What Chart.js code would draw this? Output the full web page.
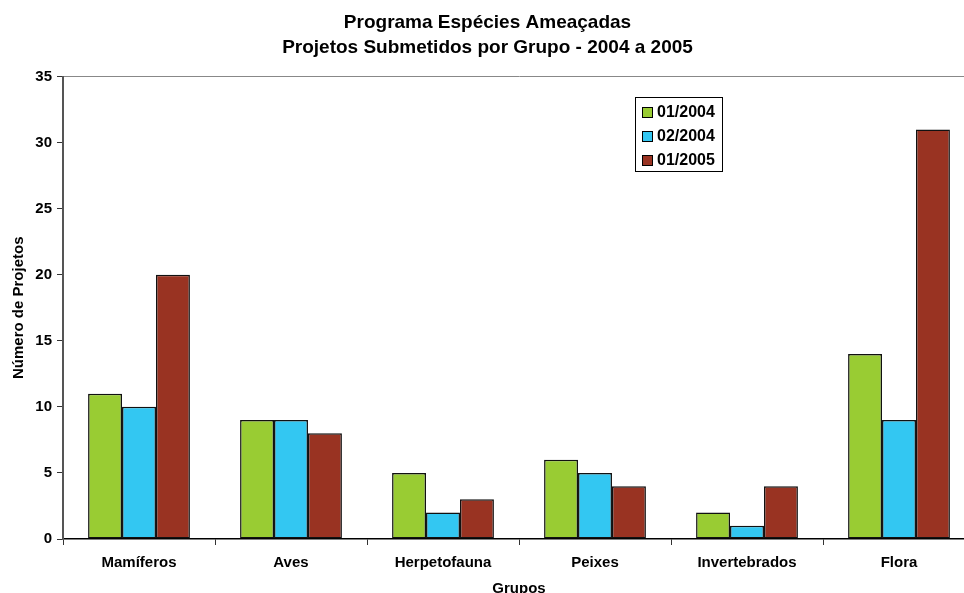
<!DOCTYPE html>
<html><head><meta charset="utf-8">
<script src="https://cdn.jsdelivr.net/npm/chart.js@4"></script>
<style>
html,body{margin:0;padding:0;overflow:hidden;background:#fff;width:964px;height:593px}
#wrap{position:absolute;left:0;top:0;width:992px;height:593px}
</style></head><body>
<div id="wrap"><canvas id="c" width="992" height="593"></canvas></div>
<script>
const categories = ['Mamíferos','Aves','Herpetofauna','Peixes','Invertebrados','Flora'];
const seriesNames = ['01/2004','02/2004','01/2005'];
const s2004a = [11, 9, 5, 6, 2, 14];
const s2004b = [10, 9, 2, 5, 1, 9];
const s2005a = [20, 8, 3, 4, 4, 31];
const colors = ['#99CC33','#33C7F2','#993322'];
const FONT = 'Liberation Sans, Arial, sans-serif';

const legendBox = {
  id: 'legendBox',
  afterDraw(chart) {
    const ctx = chart.ctx;
    const x = 635, y = 97, w = 87, h = 74;
    ctx.save();
    ctx.fillStyle = '#fff';
    ctx.fillRect(x, y, w, h);
    ctx.strokeStyle = '#000';
    ctx.lineWidth = 1;
    ctx.strokeRect(x + 0.5, y + 0.5, w, h);
    ctx.font = 'bold 16px ' + FONT;
    ctx.textBaseline = 'middle';
    chart.data.datasets.forEach((ds, i) => {
      const cy = y + 15 + i * 24;
      ctx.fillStyle = ds.backgroundColor;
      ctx.fillRect(x + 7, cy - 5, 11, 11);
      ctx.strokeStyle = '#000';
      ctx.strokeRect(x + 7.5, cy - 4.5, 10, 10);
      ctx.fillStyle = '#000';
      ctx.fillText(ds.label, x + 22, cy + 1);
    });
    ctx.restore();
  }
};

new Chart(document.getElementById('c'), {
  type: 'bar',
  data: {
    labels: categories,
    datasets: [s2004a, s2004b, s2005a].map((d, i) => ({
      label: seriesNames[i], data: d, backgroundColor: colors[i],
      borderColor: '#111', borderWidth: 1.5, borderSkipped: false,
      categoryPercentage: 0.67, barPercentage: 1
    }))
  },
  options: {
    responsive: false, animation: false,
    layout: { padding: { left: 0, right: 17, top: 0, bottom: 0 } },
    plugins: {
      legend: { display: false },
      tooltip: { enabled: false },
      title: {
        display: true,
        text: ['Programa Espécies Ameaçadas', 'Projetos Submetidos por Grupo - 2004 a 2005'],
        color: '#000', font: { family: FONT, size: 19, weight: 'bold', lineHeight: 1.33 },
        padding: { top: 10, bottom: 16 }
      }
    },
    scales: {
      x: {
        afterFit: (s) => { s.height = 54; },
        grid: { offset: true, color: 'transparent', tickColor: '#333', tickLength: 6, drawOnChartArea: false },
        border: { display: true, color: '#000', width: 1.5 },
        ticks: { color: '#000', font: { family: FONT, size: 15, weight: 'bold' }, padding: 9 },
        title: { display: true, text: 'Grupos', color: '#000', font: { family: FONT, size: 15, weight: 'bold', lineHeight: 0.6 }, padding: { top: 0, bottom: 0 } }
      },
      y: {
        min: 0, max: 35,
        afterFit: (s) => { s.width = 63; },
        grid: { color: (c) => (c.tick && c.tick.value === 35 ? '#888' : 'transparent'), tickColor: '#333', tickLength: 6 },
        border: { display: true, color: '#555', width: 2 },
        ticks: { stepSize: 5, color: '#000', font: { family: FONT, size: 15, weight: 'bold' }, padding: 5 },
        title: { display: true, text: 'Número de Projetos', color: '#000', font: { family: FONT, size: 15, weight: 'bold' }, padding: { top: 10, bottom: 0 } }
      }
    }
  },
  plugins: [legendBox]
});
</script>
</body></html>
